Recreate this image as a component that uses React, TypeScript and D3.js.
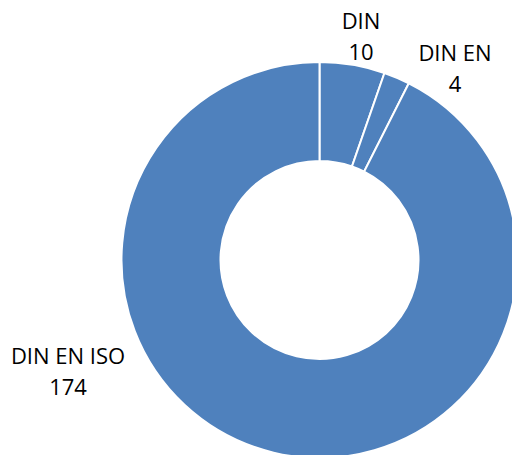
import React from "react";
import * as d3 from "d3";

const categories = ["DIN", "DIN EN", "DIN EN ISO"];
const values = [10, 4, 174];

const labelPos: [number, number][] = [
  [361, 29],
  [455, 61],
  [68, 364],
];

export default function App() {
  const width = 512;
  const height = 455;
  const cx = 319.5;
  const cy = 260;
  const outer = 198;
  const inner = 99;
  const pie = d3.pie<number>().sort(null).value((d) => d);
  const arcs = pie(values);
  const arc = d3.arc<d3.PieArcDatum<number>>().innerRadius(inner).outerRadius(outer);
  return (
    <svg
      width={width}
      height={height}
      style={{ position: "absolute", left: 0, top: 0, background: "#fff" }}
    >
      <g transform={`translate(${cx},${cy})`}>
        {arcs.map((a, i) => (
          <path key={i} d={arc(a) || ""} fill="#4F81BD" stroke="#fff" strokeWidth={2} />
        ))}
      </g>
      {categories.map((c, i) => (
        <text
          key={c}
          x={labelPos[i][0]}
          y={labelPos[i][1]}
          textAnchor="middle"
          fontFamily="'Open Sans', sans-serif"
          fontSize={22}
          fill="#000"
        >
          <tspan x={labelPos[i][0]}>{c}</tspan>
          <tspan x={labelPos[i][0]} dy={31}>{values[i]}</tspan>
        </text>
      ))}
    </svg>
  );
}
